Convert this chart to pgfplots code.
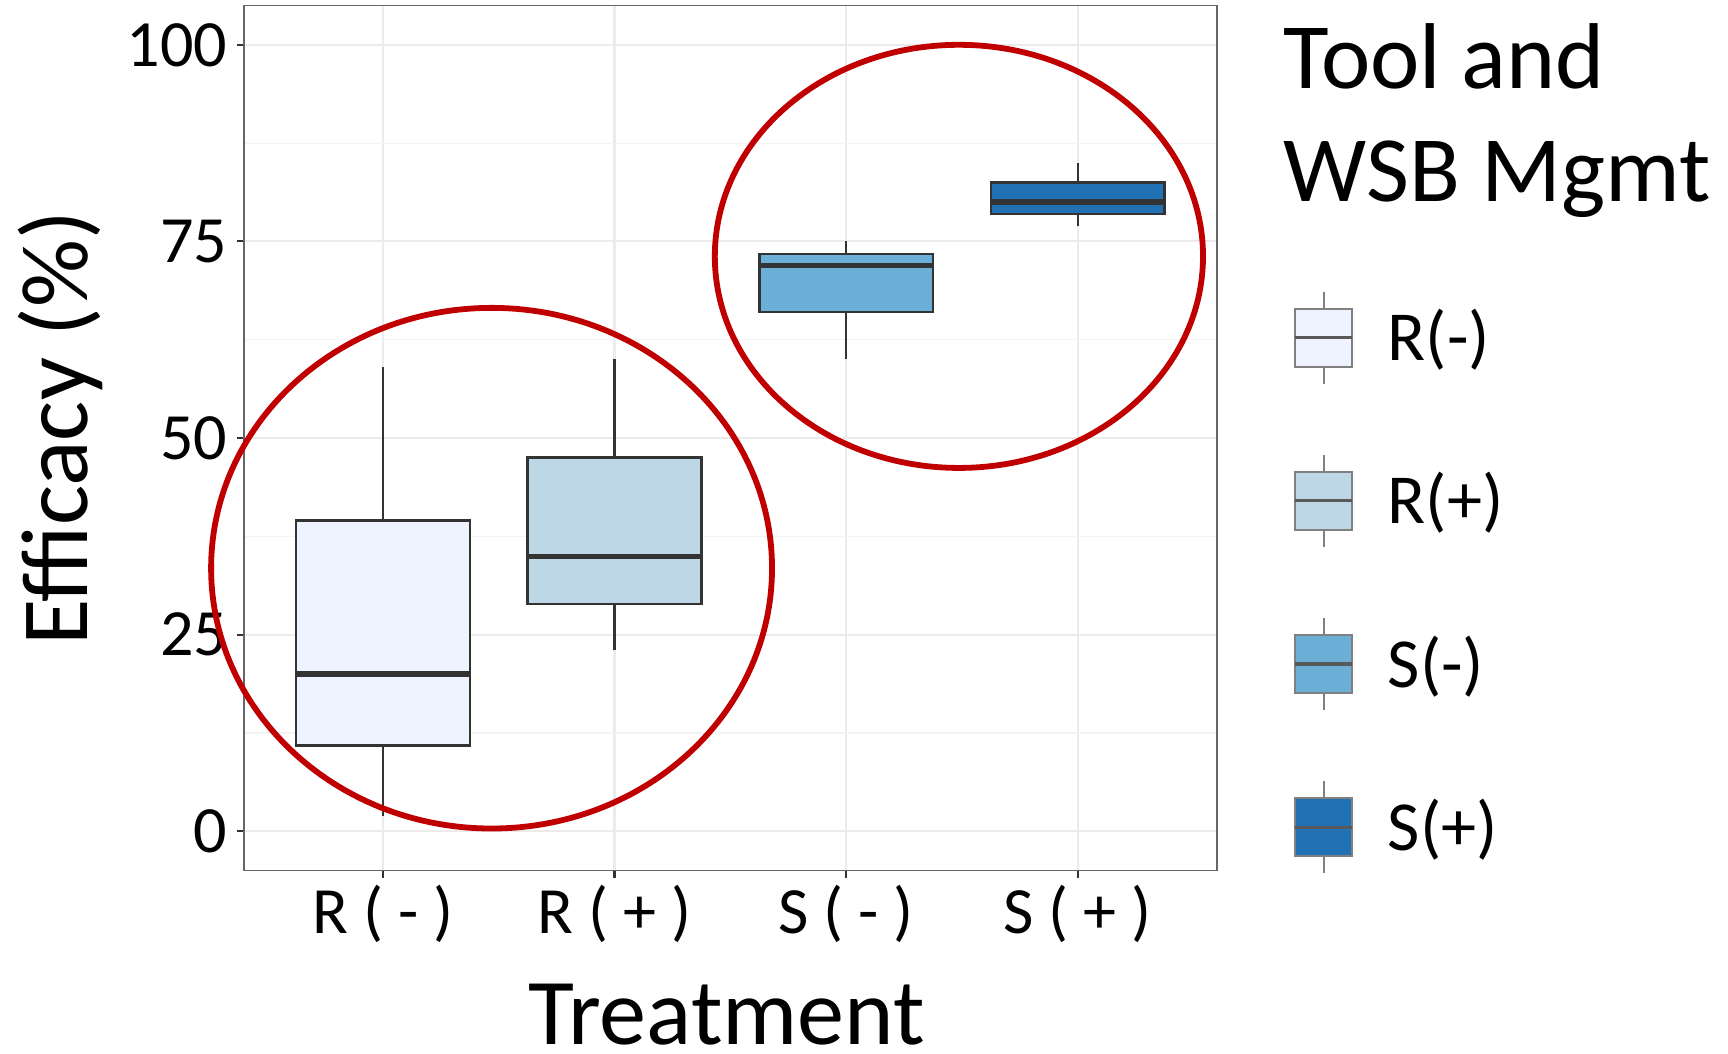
\documentclass[border=0pt]{standalone}
\usepackage{fontspec}
\setmainfont{Carlito}
\usepackage{pgfplots}
\pgfplotsset{compat=1.18}
\usepgfplotslibrary{statistics}
\definecolor{bA}{HTML}{EFF3FF}
\definecolor{bB}{HTML}{BDD7E7}
\definecolor{bC}{HTML}{6BAED6}
\definecolor{bD}{HTML}{2171B5}
\definecolor{edge}{HTML}{333333}
\definecolor{gridc}{HTML}{EBEBEB}
\definecolor{gridm}{HTML}{F3F3F3}
\definecolor{ellred}{HTML}{C00000}
\pgfplotsset{
  bxleg/.style={legend image code/.code={
     \draw[line width=0.5pt, draw=black!50] (0.285cm,-0.46cm) -- (0.285cm,0.46cm);
     \draw[line width=0.6pt, draw=black!50, fill=#1] (0cm,-0.29cm) rectangle (0.57cm,0.29cm);
     \draw[line width=0.9pt, draw=black!65] (0cm,0cm) -- (0.57cm,0cm);
  }},
}
\begin{document}
\begin{tikzpicture}
\path[use as bounding box] (0,0) rectangle (17.28cm,10.54cm);
\begin{axis}[
  at={(2.44cm,1.834cm)}, anchor=south west,
  width=9.727cm, height=8.651cm, scale only axis,
  xmin=0.4, xmax=4.6, ymin=-5, ymax=105,
  xtick={1,2,3,4}, xticklabels={R ( - ), R ( + ), S ( - ), S ( + )},
  ytick={0,25,50,75,100}, minor ytick={12.5,37.5,62.5,87.5},
  xmajorgrids, ymajorgrids, yminorgrids,
  major grid style={gridc, line width=0.6pt},
  minor grid style={gridm, line width=0.35pt},
  axis line style={black!60, line width=0.5pt},
  tick align=outside, major tick length=0.7mm, minor tick length=0pt,
  tick style={edge, line width=0.6pt},
  xtick pos=bottom, ytick pos=left,
  /pgf/number format/assume math mode=true,
  tick label style={font=\fontsize{18.8}{20}\selectfont},
  xticklabel style={anchor=base, inner sep=0pt, yshift=-5.61mm},
  yticklabel style={anchor=east, inner sep=0pt, xshift=-0.9mm},
  xlabel={Treatment}, ylabel={Efficacy (\%)},
  every axis x label/.style={at={(axis description cs:0.496,-0.2016)}, anchor=base, font=\fontsize{26.8}{28}\selectfont},
  every axis y label/.style={at={(axis description cs:-0.1604,0.511)}, rotate=90, anchor=base, font=\fontsize{27}{28}\selectfont},
  clip=false,
  boxplot/draw direction=y,
  boxplot/every median/.style={line width=1.5pt},
  legend style={at={(axis description cs:1.0784,0.6711)}, anchor=north west, draw=none, fill=none,
    inner sep=0pt, row sep=6.94mm, /tikz/column sep=3.4mm, nodes={inner sep=0pt},
    font=\fontsize{20}{22}\selectfont},
  legend cell align=left,
]
\addplot[boxplot prepared={draw position=1, lower whisker=2, lower quartile=10.9, median=20, upper quartile=39.5, upper whisker=59, box extend=0.75, whisker extend=0},
  draw=edge, fill=bA, line width=0.7pt, solid, bxleg=bA] coordinates {};
\addlegendentry{R(-)}
\addplot[boxplot prepared={draw position=2, lower whisker=23, lower quartile=28.9, median=34.9, upper quartile=47.5, upper whisker=60, box extend=0.75, whisker extend=0},
  draw=edge, fill=bB, line width=0.7pt, solid, bxleg=bB] coordinates {};
\addlegendentry{R(+)}
\addplot[boxplot prepared={draw position=3, lower whisker=60, lower quartile=66, median=71.9, upper quartile=73.4, upper whisker=75, box extend=0.75, whisker extend=0},
  draw=edge, fill=bC, line width=0.7pt, solid, bxleg=bC] coordinates {};
\addlegendentry{S(-)}
\addplot[boxplot prepared={draw position=4, lower whisker=77, lower quartile=78.5, median=80, upper quartile=82.5, upper whisker=85, box extend=0.75, whisker extend=0},
  draw=edge, fill=bD, line width=0.7pt, solid, bxleg=bD] coordinates {};
\addlegendentry{S(+)}
\draw[ellred, line width=1.65pt] (axis cs:1.469,33.45) ellipse [x radius=1.211, y radius=33.1];
\draw[ellred, line width=1.65pt] (axis cs:3.487,73.1) ellipse [x radius=1.054, y radius=26.9];
\end{axis}
\node[anchor=base west, inner sep=0pt, font=\fontsize{26.6}{30}\selectfont] at (12.83cm,9.65cm) {Tool and};
\node[anchor=base west, inner sep=0pt, font=\fontsize{26.6}{30}\selectfont] at (12.83cm,8.52cm) {WSB Mgmt};
\end{tikzpicture}
\end{document}
